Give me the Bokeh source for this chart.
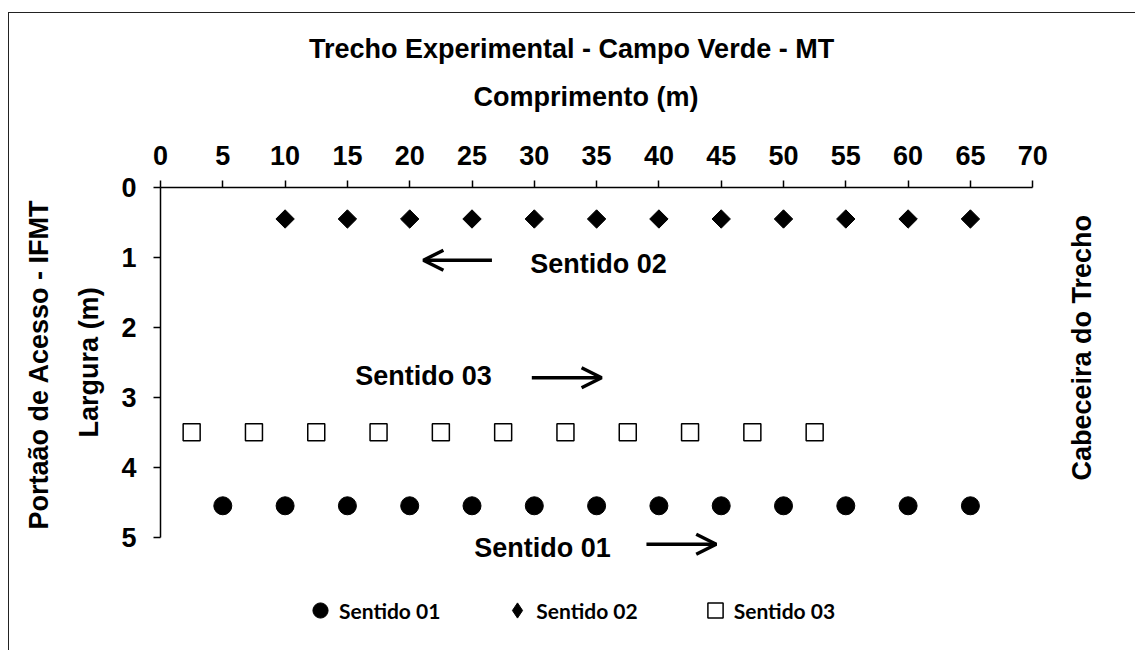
import math
from bokeh.plotting import figure
from bokeh.models import (Range1d, FixedTicker, Label, Arrow, OpenHead, Legend,
                          LegendItem, ColumnDataSource)
from bokeh.embed import file_html
from bokeh.resources import INLINE

# ---------------- data ----------------
sentido01_x = [5, 10, 15, 20, 25, 30, 35, 40, 45, 50, 55, 60, 65]
sentido01_y = [4.55, 4.55, 4.55, 4.55, 4.55, 4.55, 4.55, 4.55, 4.55, 4.55, 4.55, 4.55, 4.55]
sentido02_x = [10, 15, 20, 25, 30, 35, 40, 45, 50, 55, 60, 65]
sentido02_y = [0.45, 0.45, 0.45, 0.45, 0.45, 0.45, 0.45, 0.45, 0.45, 0.45, 0.45, 0.45]
sentido03_x = [2.5, 7.5, 12.5, 17.5, 22.5, 27.5, 32.5, 37.5, 42.5, 47.5, 52.5]
sentido03_y = [3.5, 3.5, 3.5, 3.5, 3.5, 3.5, 3.5, 3.5, 3.5, 3.5, 3.5]
series_names = ["Sentido 01", "Sentido 02", "Sentido 03"]
x_ticks = [0, 5, 10, 15, 20, 25, 30, 35, 40, 45, 50, 55, 60, 65, 70]
y_ticks = [0, 1, 2, 3, 4, 5]

title_text = "Trecho Experimental - Campo Verde - MT"
x_label = "Comprimento (m)"
y_label = "Largura (m)"
left_note = "Portaão de Acesso - IFMT"
right_note = "Cabeceira do Trecho"

# annotation anchors (data units)
arrow02 = (26.6, 1.04, 21.1, 1.04)
arrow03 = (29.8, 2.72, 35.4, 2.72)
arrow01 = (39.0, 5.10, 44.6, 5.10)
text02 = (35.15, 1.10)
text03 = (21.1, 2.70)
text01 = (30.66, 5.16)

FONT = "Liberation Sans"
FS = "27px"

# whole canvas is the frame; axes are pinned at x=0 / y=0 with bounds
p = figure(width=1127, height=638, output_backend="svg", toolbar_location=None,
           x_range=Range1d(-12.119, 78.33), y_range=Range1d(6.633, -2.4875),
           x_axis_location="above",
           min_border_left=0, min_border_right=0,
           min_border_top=0, min_border_bottom=0)
p.margin = (12, 0, 0, 8)
p.styles = {"border-left": "1.5px solid #222", "border-top": "1.5px solid #222"}
p.outline_line_color = None
p.grid.visible = False
p.background_fill_color = "white"
p.border_fill_color = "white"

for ax in (p.xaxis[0], p.yaxis[0]):
    ax.axis_line_color = "black"
    ax.axis_line_width = 1.5
    ax.major_tick_line_color = "black"
    ax.major_tick_line_width = 1.5
    ax.major_tick_in = 0
    ax.major_tick_out = 7
    ax.minor_tick_line_color = None
    ax.major_label_text_font = FONT
    ax.major_label_text_font_style = "bold"
    ax.major_label_text_font_size = FS
    ax.major_label_text_color = "black"
    ax.fixed_location = 0

p.xaxis[0].ticker = FixedTicker(ticks=x_ticks)
p.yaxis[0].ticker = FixedTicker(ticks=y_ticks)
p.xaxis[0].bounds = (0, 70)
p.yaxis[0].bounds = (0, 5)
p.xaxis[0].major_label_standoff = 16
p.yaxis[0].major_label_standoff = 17

src1 = ColumnDataSource(dict(x=sentido01_x, y=sentido01_y))
src2 = ColumnDataSource(dict(x=sentido02_x, y=sentido02_y))
src3 = ColumnDataSource(dict(x=sentido03_x, y=sentido03_y))

r1 = p.scatter("x", "y", source=src1, marker="circle", size=18,
               fill_color="black", line_color="black")
# narrow diamond used for the legend swatch (hidden under the plotted diamonds)
r2_leg = p.scatter("x", "y", source=src2, marker="diamond", size=13,
                   fill_color="black", line_color="black")
r2 = p.scatter("x", "y", source=src2, marker="square", angle=math.pi / 4, size=13,
               fill_color="black", line_color="black")
r3 = p.scatter("x", "y", source=src3, marker="square", size=17,
               fill_color="white", line_color="black", line_width=1.5)

legend = Legend(items=[LegendItem(label=series_names[0], renderers=[r1]),
                       LegendItem(label=series_names[1], renderers=[r2_leg]),
                       LegendItem(label=series_names[2], renderers=[r3])],
                orientation="horizontal", location=(292, 22),
                glyph_width=38, glyph_height=38, label_standoff=0, spacing=58,
                padding=0, margin=0, border_line_color=None,
                background_fill_alpha=0,
                label_text_font="Lato", label_text_font_style="bold",
                label_text_font_size="21px", label_text_color="black")
p.add_layout(legend)

# arrows
for (xs, ys, xe, ye) in (arrow02, arrow03, arrow01):
    p.add_layout(Arrow(x_start=xs, y_start=ys, x_end=xe, y_end=ye,
                       line_width=3.5, line_color="black",
                       end=OpenHead(size=20, line_width=3.5, line_color="black")))

def lab(x, y, t, angle=0.0):
    p.add_layout(Label(x=x, y=y, text=t, angle=angle,
                       text_align="center", text_baseline="middle",
                       text_font=FONT, text_font_style="bold",
                       text_font_size=FS, text_color="black"))

lab(text02[0], text02[1], series_names[1])
lab(text03[0], text03[1], series_names[2])
lab(text01[0], text01[1], series_names[0])
lab(32.99, -1.973, title_text)
lab(34.15, -1.30, x_label)
lab(-5.70, 2.50, y_label, angle=math.pi / 2)
lab(-9.79, 2.53, left_note, angle=math.pi / 2)
lab(73.92, 2.29, right_note, angle=math.pi / 2)

open("out.html", "w").write(file_html(p, INLINE))
